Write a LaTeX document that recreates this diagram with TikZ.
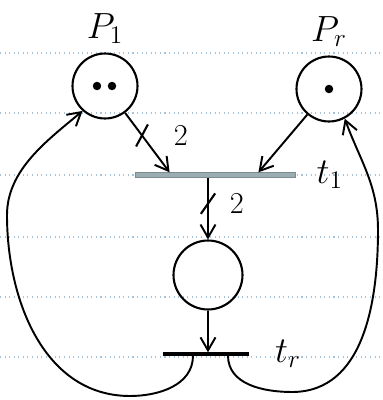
\documentclass[tikz,border=0pt]{standalone}
\usetikzlibrary{arrows.meta,positioning,calc,backgrounds}
\definecolor{ruleblue}{HTML}{A9C3D6}
\definecolor{barteal}{HTML}{9AAEB2}

\begin{document}
\begin{tikzpicture}[x=0.02cm,y=0.02cm,
place/.style={draw,circle,line width=1.2pt,minimum size=1.3cm,inner sep=0pt},
trans/.style={draw,line width=0.5pt,minimum height=0.9mm,inner sep=0pt},
tok/.style={fill,circle,inner sep=0pt,minimum size=1.7mm},
lbl/.style={font=\huge},
wt/.style={font=\LARGE},
arr/.style={-{Straight Barb[length=2.6mm,width=3mm]},line width=1.1pt},
tick/.style={sloped,inner sep=0pt,rotate=#1},
tick/.default=25
]
\useasboundingbox (0,0) rectangle (383,400);

% places
\node[place] (p1) at (105,314) {};
\node[tok] (p1a) at ($(p1.center)+(-8,0)$) {};
\node[tok] (p1b) at ($(p1.center)+(7,0)$) {};
\node[lbl,above=0.5mm of p1] (p1lab) {$P_1$};
\node[place] (pr) at (329,311) {};
\node[tok] (prtok) at (pr.center) {};
\node[lbl,above=0.5mm of pr] (prlab) {$P_r$};
\node[place,minimum size=1.38cm] (pm) at (208,125) {};

% transitions
\node[trans,fill=barteal,draw=barteal!80!black,minimum width=3.2cm] (t1) at (215,225) {};
\node[lbl,right=3mm of t1] (t1lab) {$t_1$};
\node[trans,fill=black,minimum width=1.7cm,minimum height=0.5mm] (tr) at (206,46) {};
\node[lbl,right=4mm of tr] (trlab) {$t_r$};

\coordinate (t1inl) at ($(t1.north west)+(35,0)$);
\coordinate (t1inr) at ($(t1.north east)+(-37,0)$);
\coordinate (troutl) at ($(tr.south)+(-13,0)$);
\coordinate (troutr) at ($(tr.south)+(22,0)$);

% arcs
\draw[arr] (p1) -- (t1inl)
  node[tick,pos=0.38] (k1) {\rule{1.2pt}{5mm}}
  node[wt,pos=0.38,right=5mm] (w1) {2};
\draw[arr] (pr) -- (t1inr);
\draw[arr] (t1.south -| pm.north) -- (pm.north)
  node[tick=55,pos=0.42] (k2) {\rule{1.2pt}{5mm}}
  node[wt,pos=0.42,right=3mm] (w2) {2};
\draw[arr] (pm.south) -- (tr.north -| pm.south);

% back loops
\draw[arr] (troutl) to[out=-90,in=0] (130,4) to[out=180,in=-90] (7,185)
  to[out=90,in=-140,looseness=0.9] (p1.-132);
\draw[arr] (troutr) to[out=-90,in=180] (292,8) to[out=0,in=-90] (378,170)
  to[out=90,in=-70] (pr.-62);

% ruled paper
\begin{scope}[on background layer]
\foreach \ry in {347,287,225,163,103,43}
  \draw[ruleblue,dotted,line width=0.6pt] (0,\ry) -- (383,\ry);
\end{scope}
\end{tikzpicture}
\end{document}
